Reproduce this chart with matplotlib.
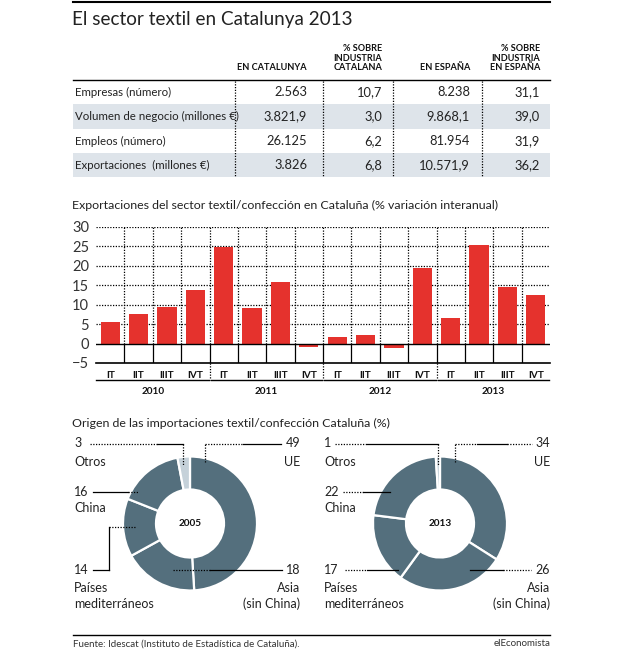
import matplotlib
matplotlib.use("Agg")
import matplotlib.pyplot as plt
import numpy as np

plt.rcParams['font.family'] = ['Lato', 'DejaVu Sans']

# ---------------- data
row_names = ["Empresas (número)", "Volumen de negocio (millones €)",
             "Empleos (número)", "Exportaciones  (millones €)"]
col_heads = ["EN CATALUNYA", "% SOBRE\nINDUSTRIA\nCATALANA", "EN ESPAÑA",
             "% SOBRE\nINDUSTRIA\nEN ESPAÑA"]
cat_vals = ["2.563", "3.821,9", "26.125", "3.826"]
cat_pct = ["10,7", "3,0", "6,2", "6,8"]
esp_vals = ["8.238", "9.868,1", "81.954", "10.571,9"]
esp_pct = ["31,1", "39,0", "31,9", "36,2"]

quarters = ["IT", "IIT", "IIIT", "IVT"] * 4
years = ["2010", "2011", "2012", "2013"]
export_var = [5.5, 7.7, 9.5, 13.7, 24.9, 9.2, 15.9, -0.8,
              1.6, 2.1, -1.1, 19.5, 6.6, 25.3, 14.5, 12.4]

regions = ["UE", "Asia\n(sin China)", "Países\nmediterráneos", "China", "Otros"]
imp_2005 = [49, 18, 14, 16, 3]
imp_2013 = [34, 26, 17, 22, 1]

RED = "#e5322d"
SLATE = "#546f7d"
LIGHT = "#c5d1d9"
BAND = "#dee4ea"
INK = "#222222"

fig = plt.figure(figsize=(6.3, 6.5), dpi=100)
ov = fig.add_axes([0, 0, 1, 1], zorder=10)
ov.set_xlim(0, 630)
ov.set_ylim(650, 0)
ov.axis("off")
ov.patch.set_alpha(0)

# ---------------- title + table
ov.plot([73, 550], [1.5, 1.5], color="black", lw=1.5)
ov.text(72, 19, "El sector textil en Catalunya 2013", fontsize=13.6, va="center",
        ha="left", color=INK)

col_right = [307, 382, 470, 540]
for xr, h in zip(col_right, col_heads):
    ov.text(xr, 72, h, fontsize=6.6, fontweight="bold", ha="right", va="bottom",
            multialignment="right", linespacing=1.05, color="#111111")
ov.plot([73, 550], [80, 80], color="black", lw=1)

row_y = [92, 116.5, 141, 165]
for i, y in enumerate(row_y):
    if i % 2 == 1:
        ov.add_patch(plt.Rectangle((73, y - 12.2), 477, 24.4, color=BAND, lw=0, zorder=0))
    ov.text(75, y, row_names[i], fontsize=8.3, va="center", ha="left", color=INK)
    for xr, col in zip(col_right, [cat_vals, cat_pct, esp_vals, esp_pct]):
        ov.text(xr, y, col[i], fontsize=9.3, va="center", ha="right", color=INK)
for xv in [235, 323, 393, 482]:
    ov.plot([xv, xv], [81, 177], color="black", lw=0.9, ls=(0, (1, 1.2)))

# ---------------- bar chart
ov.text(72, 205, "Exportaciones del sector textil/confección en Cataluña (% variación interanual)",
        fontsize=8.9, va="center", ha="left", color=INK)

ax = fig.add_axes([96 / 630, 1 - 363 / 650, 454 / 630, 136 / 650])
x = np.arange(len(export_var))
ax.bar(x, export_var, width=0.68, color=RED, zorder=3)
ax.set_xlim(-0.5, 15.5)
ax.set_ylim(-5, 30)
ax.set_yticks(range(-5, 31, 5))
ax.set_yticklabels([("\u2212" + str(-v)) if v < 0 else str(v) for v in range(-5, 31, 5)],
                   fontsize=10.5, color="#333333")
for v in range(5, 31, 5):
    ax.axhline(v, color="black", lw=0.9, ls=(0, (1, 1.2)), zorder=1)
ax.axhline(0, color="black", lw=1, zorder=4)
for b in np.arange(0.5, 15.5, 1):
    ax.plot([b, b], [0, 30], color="black", lw=0.9, ls=(0, (1, 1.2)), zorder=1)
    ax.plot([b, b], [-5, 0], color="black", lw=0.9, zorder=1)
for s in ["top", "right", "left"]:
    ax.spines[s].set_visible(False)
ax.spines["bottom"].set_linewidth(1.2)
ax.tick_params(axis="y", length=0, pad=5)
ax.tick_params(axis="x", length=0, pad=6)
ax.set_xticks(x)
ax.set_xticklabels(quarters, fontsize=7.2, fontweight="bold", color="#111111")

# year underline and labels (pixel coords)
slot = 454 / 16
for k, yr in enumerate(years):
    x0 = 96 + 4 * k * slot
    x1 = x0 + 4 * slot
    ov.plot([x0 + (1 if k else 0), x1 - 1], [380, 380], color="black", lw=1)
    ov.text((x0 + x1) / 2, 391, yr, fontsize=7.2, fontweight="bold", ha="center",
            va="center", color="#111111")
    if k:
        ov.plot([x0, x0], [363, 380], color="black", lw=0.9, ls=(0, (1, 1.2)))

# ---------------- donuts
ov.text(72, 423, "Origen de las importaciones textil/confección Cataluña (%)",
        fontsize=8.9, va="center", ha="left", color=INK)


def donut(cx, cy, vals, label):
    a = fig.add_axes([(cx - 70) / 630, 1 - (cy + 70) / 650, 140 / 630, 140 / 650])
    a.pie(vals, radius=67, startangle=90, counterclock=False,
          colors=[SLATE, SLATE, SLATE, SLATE, LIGHT],
          wedgeprops=dict(width=33, edgecolor="white", linewidth=1.6))
    a.set_xlim(-70, 70)
    a.set_ylim(-70, 70)
    a.set_aspect("equal")
    a.axis("off")
    a.text(0, 0, label, fontsize=7.2, fontweight="bold", ha="center", va="center",
           color="#111111")


donut(190, 523.5, imp_2005, "2005")
donut(440, 523.5, imp_2013, "2013")

DOT = (0, (1, 1.2))


def leader(segs):
    for xs, ys, style in segs:
        ov.plot(xs, ys, color="black", lw=0.9, ls=DOT if style == "d" else "-")


def labels(xl, xr, vals):
    fs = 9
    c = INK
    ue, asia, med, china, otros = vals
    ov.text(xl, 443, str(otros), fontsize=fs, va="center", ha="left", color=c)
    ov.text(xl, 462, "Otros", fontsize=fs, va="center", ha="left", color=c)
    ov.text(xr, 443, str(ue), fontsize=fs, va="center", ha="right", color=c)
    ov.text(xr, 462, "UE", fontsize=fs, va="center", ha="right", color=c)
    ov.text(xl, 492, str(china), fontsize=fs, va="center", ha="left", color=c)
    ov.text(xl, 508, "China", fontsize=fs, va="center", ha="left", color=c)
    ov.text(xl, 570, str(med), fontsize=fs, va="center", ha="left", color=c)
    ov.text(xl, 588, "Países", fontsize=fs, va="center", ha="left", color=c)
    ov.text(xl, 604, "mediterráneos", fontsize=fs, va="center", ha="left", color=c)
    ov.text(xr, 570, str(asia), fontsize=fs, va="center", ha="right", color=c)
    ov.text(xr, 588, "Asia", fontsize=fs, va="center", ha="right", color=c)
    ov.text(xr, 604, "(sin China)", fontsize=fs, va="center", ha="right", color=c)


labels(74, 300, imp_2005)
leader([([90, 157], [444, 444], "d"), ([157, 183], [444, 444], "s"),
        ([183, 183], [444, 465], "d"),
        ([205, 205], [462, 444], "d"), ([205, 243], [444, 444], "d"),
        ([243, 281], [444, 444], "s"),
        ([93, 128], [492, 492], "s"), ([128, 138], [492, 492], "d"),
        ([93, 109], [570, 570], "s"), ([109, 109], [570, 527], "s"),
        ([109, 135], [527, 527], "d"),
        ([173, 210], [570, 570], "d"), ([210, 282], [570, 570], "s")])

labels(324, 550, imp_2013)
leader([([335, 367], [444, 444], "d"), ([367, 438], [444, 444], "s"),
        ([438, 438], [444, 465], "d"),
        ([455, 455], [462, 444], "d"), ([455, 477], [444, 444], "d"),
        ([477, 507], [444, 444], "s"), ([507, 532], [444, 444], "d"),
        ([343, 363], [492, 492], "d"), ([363, 390], [492, 492], "s"),
        ([345, 367], [570, 570], "d"), ([367, 398], [570, 570], "s"),
        ([470, 503], [570, 570], "s"), ([503, 531], [570, 570], "d")])

# ---------------- footer
ov.plot([73, 550], [635, 635], color="black", lw=1)
ov.text(73, 644, "Fuente: Idescat (Instituto de Estadística de Cataluña).", fontsize=7,
        va="center", ha="left", color="#333333")
ov.text(550, 644, "elEconomista", fontsize=7, va="center", ha="right", color="#333333")

fig.savefig("out.png", dpi=100)
